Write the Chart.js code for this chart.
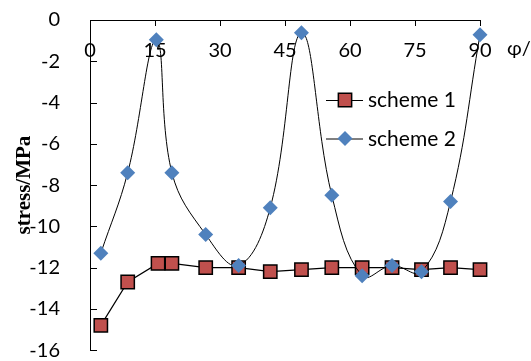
<!DOCTYPE html>
<html>
<head>
<meta charset="utf-8">
<script src="https://cdn.jsdelivr.net/npm/chart.js@4/dist/chart.umd.min.js"></script>
<style>
  html, body { margin: 0; padding: 0; background: #fff; }
  #wrap { width: 531px; height: 361px; }
</style>
</head>
<body>
<div id="wrap"><canvas id="c" width="531" height="361"></canvas></div>
<script>
// Angle φ (degrees) and stress (MPa) for the two schemes
const angles1 = [2.5, 8.7, 15.7, 18.9, 26.7, 34.3, 41.6, 48.8, 55.8, 62.8, 69.7, 76.5, 83.2, 90];
const stress1 = [-14.8, -12.7, -11.8, -11.8, -12.0, -12.0, -12.2, -12.1, -12.0, -12.0, -12.0, -12.1, -12.0, -12.1];

const angles2 = [2.5, 8.7, 15.3, 18.9, 26.7, 34.3, 41.6, 48.8, 55.8, 62.8, 69.7, 76.5, 83.2, 90];
const stress2 = [-11.3, -7.4, -0.96, -7.4, -10.4, -11.9, -9.1, -0.62, -8.5, -12.4, -11.9, -12.2, -8.8, -0.72];

const seriesNames = ['scheme 1', 'scheme 2'];
const xTicks = [0, 15, 30, 45, 60, 75, 90];
const yTicks = [0, -2, -4, -6, -8, -10, -12, -14, -16];
const yTitle = 'stress/MPa';
const xTitle = 'φ/°';

const RED = '#C0504D';
const BLUE = '#4F81BD';

const toPoints = (xs, ys) => xs.map((x, i) => ({ x: x, y: ys[i] }));

// Short tick marks pointing into the plot, plus the axis-end unit label
const innerTicks = {
  id: 'innerTicks',
  beforeDatasetsDraw(chart) {
    const { ctx, scales: { x, y } } = chart;
    const y0 = y.getPixelForValue(0);
    ctx.save();
    ctx.strokeStyle = '#000';
    ctx.lineWidth = 1;
    ctx.beginPath();
    yTicks.forEach(v => {
      const py = Math.round(y.getPixelForValue(v)) + 0.5;
      ctx.moveTo(x.left, py);
      ctx.lineTo(x.left + 7, py);
    });
    xTicks.forEach(v => {
      const px = Math.round(x.getPixelForValue(v)) + 0.5;
      ctx.moveTo(px, y0);
      ctx.lineTo(px, y0 + 6);
    });
    ctx.stroke();
    ctx.restore();
  },
  afterDraw(chart) {
    const { ctx, scales: { x, y } } = chart;
    ctx.save();
    ctx.fillStyle = '#000';
    ctx.font = '20px Lato';
    ctx.textAlign = 'left';
    ctx.textBaseline = 'middle';
    ctx.fillText(xTitle, x.right + 27, y.getPixelForValue(0) + 29);
    ctx.restore();
  }
};

// Legend drawn inside the plot area: line segment + marker + label
const innerLegend = {
  id: 'innerLegend',
  afterDatasetsDraw(chart) {
    const { ctx, chartArea } = chart;
    const lx = chartArea.left + 236;
    const rows = [chartArea.top + 80, chartArea.top + 118.5];
    ctx.save();
    chart.data.datasets.forEach((ds, i) => {
      const cy = rows[ds.legendRow];
      ctx.strokeStyle = '#000';
      ctx.lineWidth = 1;
      ctx.beginPath();
      ctx.moveTo(lx, cy + 0.5);
      ctx.lineTo(lx + 37, cy + 0.5);
      ctx.stroke();
      ctx.fillStyle = ds.pointBackgroundColor;
      ctx.strokeStyle = '#000';
      ctx.lineWidth = ds.pointBorderWidth;
      Chart.helpers.drawPoint(ctx, {
        pointStyle: ds.pointStyle,
        radius: ds.pointRadius,
        rotation: 0,
        borderWidth: ds.pointBorderWidth
      }, lx + 19, cy);
      ctx.fillStyle = '#000';
      ctx.font = '21px Lato';
      ctx.textAlign = 'left';
      ctx.textBaseline = 'middle';
      ctx.fillText(ds.label, lx + 42, cy + 0.5);
    });
    ctx.restore();
  }
};

new Chart(document.getElementById('c'), {
  type: 'line',
  data: {
    datasets: [
      {
        label: seriesNames[0],
        legendRow: 0,
        order: 2,
        data: toPoints(angles1, stress1),
        borderColor: '#000',
        borderWidth: 1.2,
        tension: 0,
        pointStyle: 'rect',
        pointRadius: 9.4,
        pointBackgroundColor: RED,
        pointBorderColor: '#000',
        pointBorderWidth: 1.5,
        clip: false
      },
      {
        label: seriesNames[1],
        legendRow: 1,
        order: 1,
        data: toPoints(angles2, stress2),
        borderColor: '#000',
        borderWidth: 1,
        tension: 0.4,
        pointStyle: 'rectRot',
        pointRadius: 7.5,
        pointBackgroundColor: BLUE,
        pointBorderColor: BLUE,
        pointBorderWidth: 0,
        clip: false
      }
    ]
  },
  options: {
    responsive: false,
    animation: false,
    events: [],
    layout: { padding: { left: 0, right: 51, top: 20, bottom: 8.5 } },
    plugins: {
      legend: { display: false },
      tooltip: { enabled: false }
    },
    scales: {
      x: {
        type: 'linear',
        position: { y: 0 },
        min: 0,
        max: 90,
        afterBuildTicks: (s) => { s.ticks = xTicks.map(v => ({ value: v })); },
        grid: { display: false },
        border: { display: true, color: '#000', width: 1 },
        ticks: {
          color: '#000',
          font: { family: 'Lato', size: 20 },
          padding: 11,
          maxRotation: 0
        }
      },
      y: {
        type: 'linear',
        position: 'left',
        min: -16,
        max: 0,
        afterBuildTicks: (s) => { s.ticks = yTicks.map(v => ({ value: v })); },
        afterFit: (s) => { s.width = 90; s.paddingTop = 0; s.paddingBottom = 0; },
        grid: { display: false },
        border: { display: true, color: '#000', width: 1 },
        ticks: {
          color: '#000',
          font: { family: 'Lato', size: 20 },
          padding: 22
        },
        title: {
          display: true,
          text: yTitle,
          color: '#000',
          font: { family: 'Liberation Serif', size: 21, weight: 'bold' },
          padding: { top: 12, bottom: 0 }
        }
      }
    }
  },
  plugins: [innerTicks, innerLegend]
});
</script>
</body>
</html>
